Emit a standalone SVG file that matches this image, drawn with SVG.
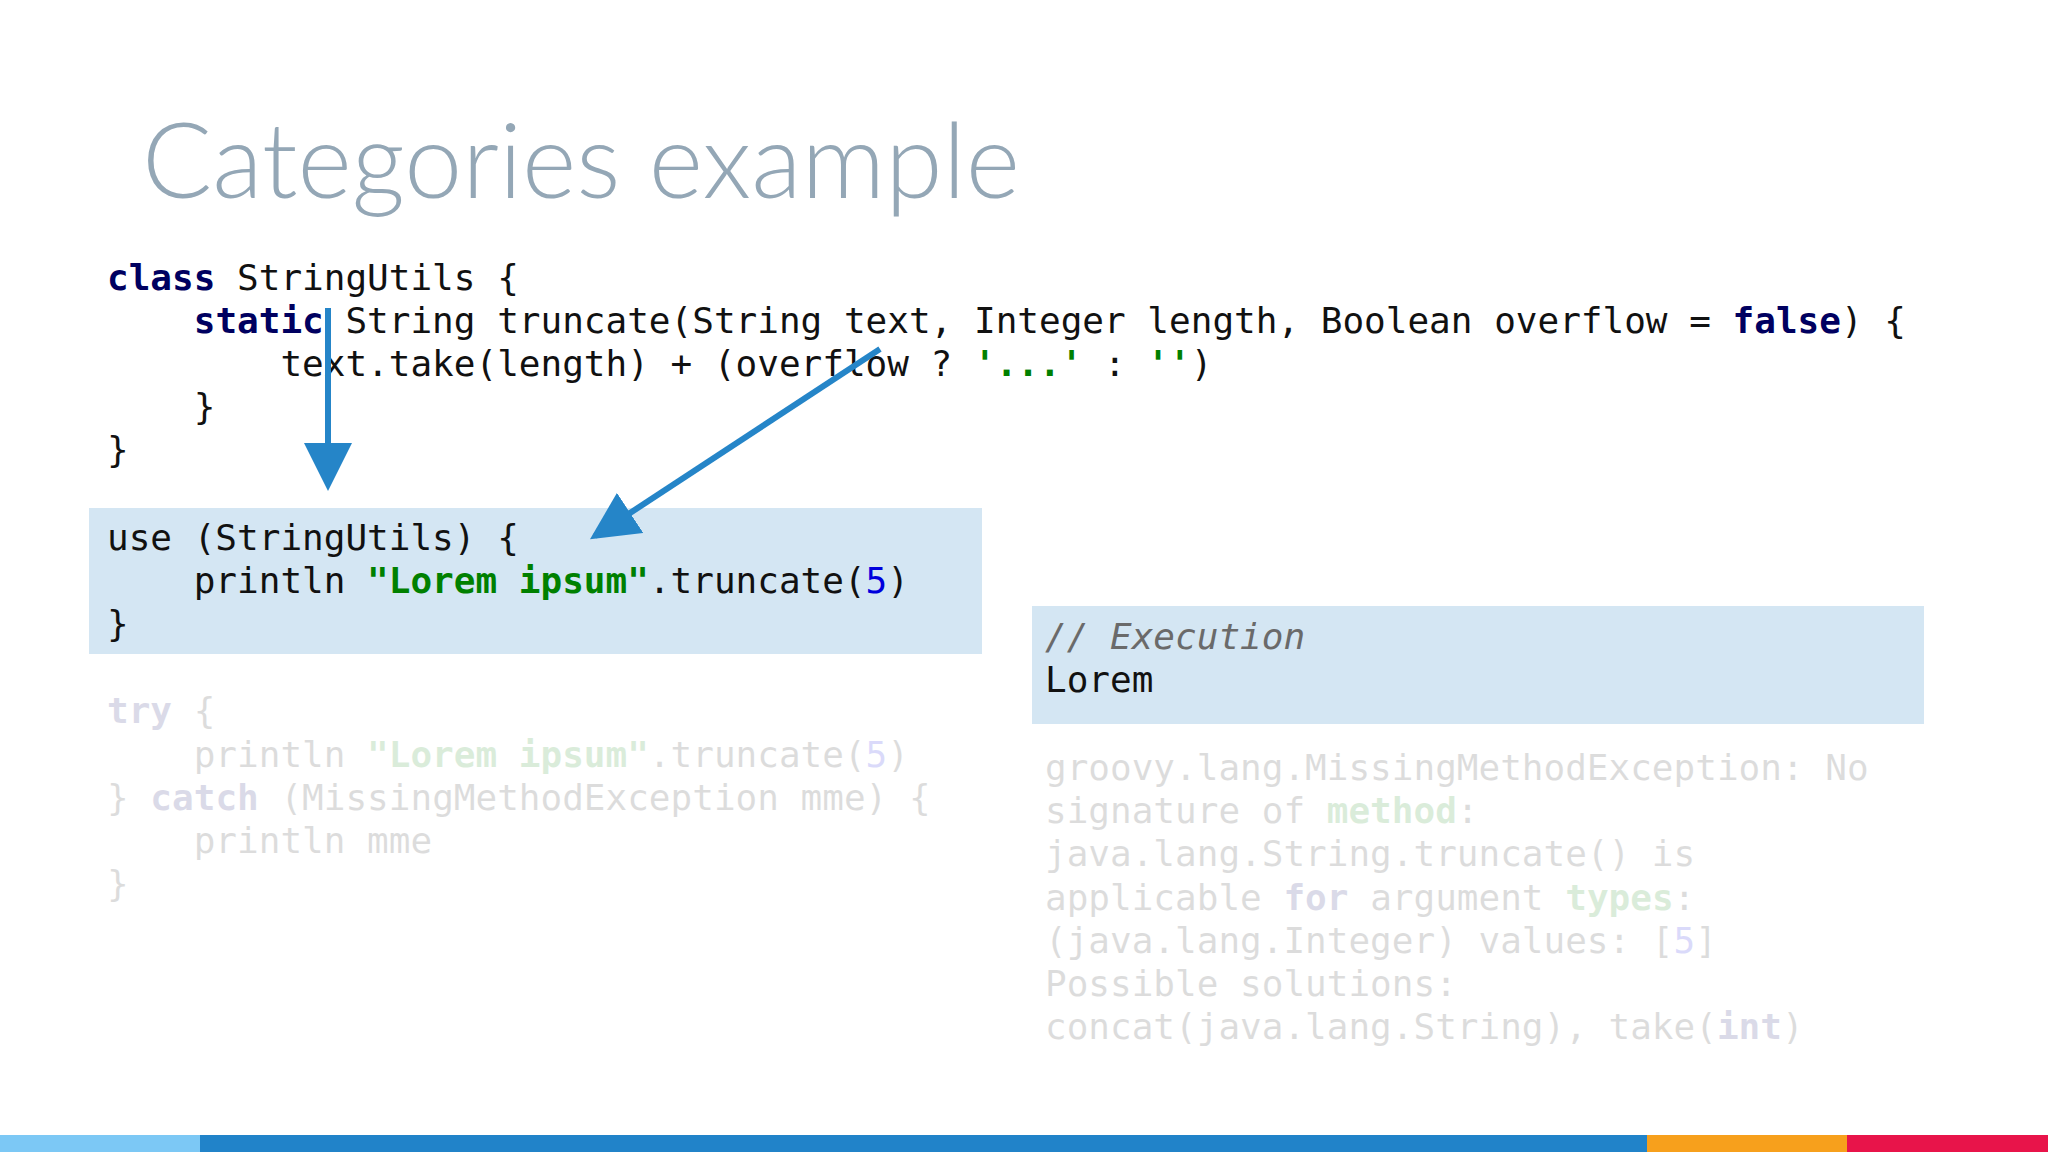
<svg xmlns="http://www.w3.org/2000/svg" width="2048" height="1152" viewBox="0 0 2048 1152">
<defs>
<style>
.c{font-family:"DejaVu Sans Mono",monospace;font-size:36px;fill:#111;white-space:pre}
.k{font-weight:bold;fill:#000060}
.s{font-weight:bold;fill:#008000}
.n{fill:#0000dd}
.cm{font-style:italic;fill:#6a6a6a}
.fade{opacity:0.14}
.arr{stroke:#2585c8;stroke-width:6;fill:none}
</style>
<marker id="ah" markerWidth="8" markerHeight="8" refX="7" refY="4" orient="auto" markerUnits="strokeWidth">
<path d="M0,0 L8,4 L0,8 Z" fill="#2585c8"/>
</marker>
</defs>
<rect width="2048" height="1152" fill="#fff"/>
<text x="142" y="198" font-family="Lato, sans-serif" font-weight="300" font-size="104" fill="#94a7b6">Categories example</text>
<g id="classcode">
<text class="c" x="107" y="290"><tspan class="k">class</tspan> StringUtils {</text>
<text class="c" x="107" y="333">    <tspan class="k">static</tspan> String truncate(String text, Integer length, Boolean overflow = <tspan class="k">false</tspan>) {</text>
<text class="c" x="107" y="376">        text.take(length) + (overflow ? <tspan class="s">'...'</tspan> : <tspan class="s">''</tspan>)</text>
<text class="c" x="107" y="419">    }</text>
<text class="c" x="107" y="462">}</text>
</g>
<g id="usebox">
<rect x="89" y="508" width="893" height="146" fill="#d4e6f3"/>
<text class="c" x="107" y="550">use (StringUtils) {</text>
<text class="c" x="107" y="593">    println <tspan class="s">"Lorem ipsum"</tspan>.truncate(<tspan class="n">5</tspan>)</text>
<text class="c" x="107" y="636">}</text>
</g>
<g id="trycode" class="fade">
<text class="c" x="107" y="723"><tspan class="k">try</tspan> {</text>
<text class="c" x="107" y="767">    println <tspan class="s">"Lorem ipsum"</tspan>.truncate(<tspan class="n">5</tspan>)</text>
<text class="c" x="107" y="810">} <tspan class="k">catch</tspan> (MissingMethodException mme) {</text>
<text class="c" x="107" y="853">    println mme</text>
<text class="c" x="107" y="896">}</text>
</g>
<g id="execbox">
<rect x="1032" y="606" width="892" height="118" fill="#d4e6f3"/>
<text class="c cm" x="1045" y="649">// Execution</text>
<text class="c" x="1045" y="692">Lorem</text>
</g>
<g id="exception" class="fade">
<text class="c" x="1045" y="780">groovy.lang.MissingMethodException: No</text>
<text class="c" x="1045" y="823">signature of <tspan class="s" font-weight="normal">method</tspan>:</text>
<text class="c" x="1045" y="866">java.lang.String.truncate() is</text>
<text class="c" x="1045" y="910">applicable <tspan class="k">for</tspan> argument <tspan class="s" font-weight="normal">types</tspan>:</text>
<text class="c" x="1045" y="953">(java.lang.Integer) values: [<tspan class="n">5</tspan>]</text>
<text class="c" x="1045" y="996">Possible solutions:</text>
<text class="c" x="1045" y="1039">concat(java.lang.String), take(<tspan class="k">int</tspan>)</text>
</g>
<g id="connectors">
<line class="arr" x1="328" y1="308" x2="328" y2="485" marker-end="url(#ah)"/>
<line class="arr" x1="880" y1="349" x2="595" y2="536" marker-end="url(#ah)"/>
</g>
<g id="bar">
<rect x="0" y="1135" width="200" height="17" fill="#7cc8f5"/>
<rect x="200" y="1135" width="1447" height="17" fill="#2183c9"/>
<rect x="1647" y="1135" width="200" height="17" fill="#f7a01c"/>
<rect x="1847" y="1135" width="201" height="17" fill="#e8144a"/>
</g>
</svg>
